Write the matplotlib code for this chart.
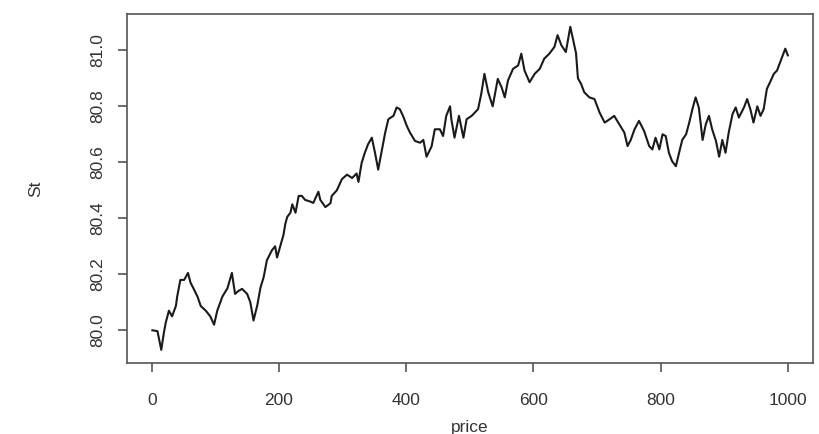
import matplotlib.pyplot as plt

# simulated price path, read at irregular steps
step = [1, 9, 15, 19, 22, 27, 32, 38, 40, 45, 51, 57, 61, 66, 72, 77, 85, 92, 98,
        103, 111, 119, 126, 131, 136, 142, 150, 155, 160, 166, 171, 176, 181, 189,
        194, 197, 202, 207, 210, 213, 218, 221, 226, 231, 236, 241, 249, 254, 262,
        265, 273, 281, 283, 291, 299, 307, 315, 322, 325, 330, 335, 340, 346, 351,
        356, 361, 367, 372, 380, 385, 390, 395, 401, 406, 414, 422, 427, 432, 440,
        445, 453, 458, 463, 469, 471, 476, 483, 490, 495, 503, 513, 518, 523, 529,
        536, 544, 550, 555, 560, 568, 576, 581, 586, 594, 602, 610, 617, 625, 633,
        638, 644, 651, 658, 662, 667, 670, 675, 680, 688, 696, 704, 712, 720, 727,
        735, 743, 748, 753, 759, 766, 774, 782, 787, 792, 798, 803, 808, 813, 818,
        824, 829, 834, 840, 845, 850, 855, 860, 866, 871, 876, 881, 887, 892, 897,
        902, 907, 913, 918, 923, 931, 936, 941, 946, 952, 957, 962, 967, 972, 978,
        983, 988, 994, 996, 1000]
st = [80.00, 79.997, 79.93, 79.99, 80.027, 80.07, 80.05, 80.087, 80.12, 80.18,
      80.18, 80.205, 80.17, 80.148, 80.12, 80.087, 80.07, 80.05, 80.02, 80.07,
      80.12, 80.15, 80.205, 80.13, 80.14, 80.148, 80.13, 80.10, 80.035, 80.09,
      80.153, 80.19, 80.25, 80.286, 80.30, 80.26, 80.30, 80.34, 80.38, 80.405,
      80.42, 80.45, 80.42, 80.48, 80.48, 80.466, 80.46, 80.455, 80.495, 80.466,
      80.44, 80.454, 80.48, 80.50, 80.54, 80.556, 80.544, 80.56, 80.53, 80.598,
      80.634, 80.664, 80.688, 80.634, 80.574, 80.634, 80.706, 80.754, 80.766,
      80.796, 80.79, 80.766, 80.73, 80.706, 80.676, 80.67, 80.68, 80.62, 80.657,
      80.718, 80.718, 80.694, 80.766, 80.80, 80.754, 80.688, 80.766, 80.688,
      80.754, 80.766, 80.79, 80.844, 80.916, 80.85, 80.80, 80.898, 80.868, 80.832,
      80.892, 80.934, 80.946, 80.988, 80.928, 80.886, 80.916, 80.934, 80.97,
      80.988, 81.012, 81.054, 81.018, 80.994, 81.084, 81.042, 80.99, 80.90, 80.88,
      80.85, 80.832, 80.826, 80.778, 80.742, 80.754, 80.766, 80.736, 80.706,
      80.658, 80.68, 80.718, 80.748, 80.712, 80.658, 80.646, 80.688, 80.646, 80.70,
      80.694, 80.634, 80.604, 80.586, 80.634, 80.68, 80.70, 80.742, 80.79, 80.832,
      80.796, 80.68, 80.736, 80.766, 80.718, 80.676, 80.62, 80.68, 80.634, 80.706,
      80.772, 80.796, 80.76, 80.796, 80.826, 80.79, 80.742, 80.80, 80.766, 80.79,
      80.862, 80.886, 80.916, 80.928, 80.958, 80.994, 81.006, 80.982]

xticks = [0, 200, 400, 600, 800, 1000]
yticks = [80.0, 80.2, 80.4, 80.6, 80.8, 81.0]

plt.rcParams['font.family'] = ['Liberation Sans', 'DejaVu Sans']

fig = plt.figure(figsize=(8.19, 4.34), dpi=100)
ax = fig.add_axes([0.155, 0.164, 0.838, 0.804])
ax.plot(step, st, color='#1a1a1a', lw=1.5)

# R-style 4% padding on both axes
xr = max(step) - min(step)
yr = max(st) - min(st)
ax.set_xlim(min(step) - 0.04 * xr, max(step) + 0.04 * xr)
ax.set_ylim(min(st) - 0.04 * yr, max(st) + 0.04 * yr)

ax.set_xticks(xticks)
ax.set_xticklabels([str(t) for t in xticks])
ax.set_yticks(yticks)
ax.set_yticklabels(['%.1f' % t for t in yticks], rotation=90, va='center')

for s in ax.spines.values():
    s.set_color('#555555')
    s.set_linewidth(1.2)
ax.tick_params(axis='both', colors='#555555', width=1.2, length=6.5,
               labelsize=12.5, labelcolor='#333333')
ax.tick_params(axis='x', pad=15)
ax.tick_params(axis='y', pad=9)

ax.set_xlabel('price', fontsize=12.5, color='#333333', labelpad=9)
ax.set_ylabel('St', fontsize=12.5, color='#333333', labelpad=34)

fig.savefig('out.png', dpi=100)
